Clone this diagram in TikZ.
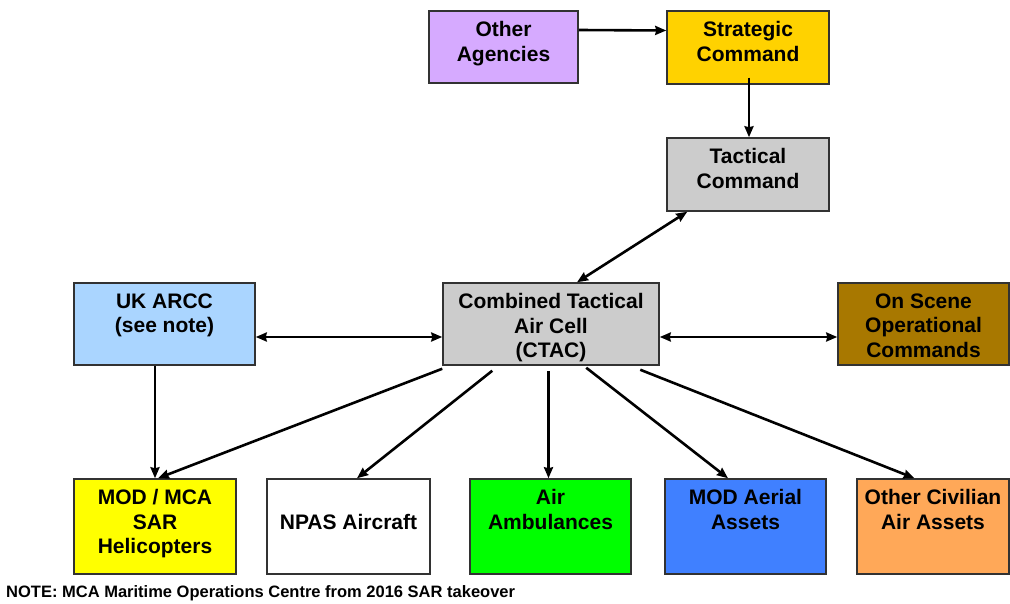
\documentclass[tikz,border=0pt]{standalone}
\usepackage{fontspec}
\setmainfont{Liberation Sans}
\usetikzlibrary{arrows.meta,calc}
\definecolor{cOA}{RGB}{214,170,255}
\definecolor{cSC}{RGB}{255,210,0}
\definecolor{cGR}{RGB}{204,204,204}
\definecolor{cAR}{RGB}{170,213,255}
\definecolor{cOS}{RGB}{168,120,0}
\definecolor{cMOD}{RGB}{255,255,0}
\definecolor{cAIR}{RGB}{0,255,0}
\definecolor{cAER}{RGB}{64,128,255}
\definecolor{cCIV}{RGB}{255,168,88}
\definecolor{cBD}{RGB}{50,50,50}
\tikzset{
  box/.style={draw=cBD, line width=1.5pt, rectangle, inner sep=0pt},
  lbl/.style={anchor=north, align=center, inner sep=0pt, font=\fontsize{21}{24.5}\selectfont\bfseries},
  arr/.style={line width=2.6pt, -{Stealth[length=11pt,width=9pt,inset=1pt]}},
  darr/.style={line width=2.6pt, {Stealth[length=11pt,width=9pt,inset=1pt]}-{Stealth[length=11pt,width=9pt,inset=1pt]}},
}
\begin{document}
\begin{tikzpicture}[x=1pt,y=-1pt]
\useasboundingbox[fill=white] (0,0) rectangle (1010,604);
% boxes
\node[box, fill=cOA, minimum width=149pt, minimum height=72pt] (oa) at (503.5,47) {};
\node[box, fill=cSC, minimum width=162pt, minimum height=73pt] (sc) at (748,47.5) {};
\node[box, fill=cGR, minimum width=162pt, minimum height=73pt] (tc) at (748,174.5) {};
\node[box, fill=cAR, minimum width=181pt, minimum height=82pt] (arcc) at (164.5,324) {};
\node[box, fill=cGR, minimum width=216pt, minimum height=82pt] (ctac) at (551,324) {};
\node[box, fill=cOS, minimum width=171pt, minimum height=82pt] (os) at (923.5,324) {};
\node[box, fill=cMOD, minimum width=162pt, minimum height=95pt] (mod) at (155,526.5) {};
\node[box, fill=white, minimum width=163pt, minimum height=95pt] (npas) at (348.5,526.5) {};
\node[box, fill=cAIR, minimum width=161pt, minimum height=95pt] (air) at (550.5,526.5) {};
\node[box, fill=cAER, minimum width=161pt, minimum height=95pt] (aer) at (745.5,526.5) {};
\node[box, fill=cCIV, minimum width=152pt, minimum height=95pt] (civ) at (933,526.5) {};
% labels
\node[lbl] (toa) at ($(oa.north)+(0,11)$) {Other\\Agencies};
\node[lbl] (tsc) at ($(sc.north)+(0,11)$) {Strategic\\Command};
\node[lbl] (ttc) at ($(tc.north)+(0,11)$) {Tactical\\Command};
\node[lbl] (tarcc) at ($(arcc.north)+(0,11)$) {UK ARCC\\(see note)};
\node[lbl] (tctac) at ($(ctac.north)+(0,11)$) {Combined Tactical\\Air Cell\\(CTAC)};
\node[lbl] (tos) at ($(os.north)+(0,11)$) {On Scene\\Operational\\Commands};
\node[lbl] (tmod) at ($(mod.north)+(0,11)$) {MOD / MCA\\SAR\\Helicopters};
\node[lbl] (tnpas) at ($(npas.north)+(0,35.5)$) {NPAS Aircraft};
\node[lbl] (tair) at ($(air.north)+(0,11)$) {Air\\Ambulances};
\node[lbl] (taer) at ($(aer.north)+(0,11)$) {MOD Aerial\\Assets};
\node[lbl] (tciv) at ($(civ.north)+(0,11)$) {Other Civilian\\Air Assets};
\node[anchor=west, inner sep=0pt, font=\fontsize{16.5}{19}\selectfont\bfseries] (note) at (6,593) {NOTE: MCA Maritime Operations Centre from 2016 SAR takeover};
% connectors
\draw[arr] ($(oa.east)+(0,-17)$) -- ($(sc.west)+(0,-17)$);
\draw[arr] ($(sc.south)+(1,-7)$) -- ($(tc.north)+(1,0)$);
\draw[darr] ($(tc.south west)+(21,0)$) -- ($(ctac.north)+(26,0)$);
\draw[darr] ($(arcc.east)+(0,13)$) -- ($(ctac.west)+(0,13)$);
\draw[darr] ($(ctac.east)+(0,13)$) -- ($(os.west)+(0,13)$);
\draw[arr] (arcc.south -| mod.north) -- (mod.north);
\draw[arr] ($(ctac.south west)+(0,3)$) -- ($(mod.north)+(3,0)$);
\draw[arr] ($(ctac.south west)+(50,5)$) -- ($(npas.north)+(8.5,0)$);
\draw[arr] ($(ctac.south -| air.north)+(-2,5)$) -- ($(air.north)+(-2,0)$);
\draw[arr] ($(ctac.south west)+(144,2)$) -- ($(aer.north)+(-17.5,0)$);
\draw[arr] ($(ctac.south west)+(198,4)$) -- ($(civ.north)+(-18.5,0)$);
\end{tikzpicture}
\end{document}
